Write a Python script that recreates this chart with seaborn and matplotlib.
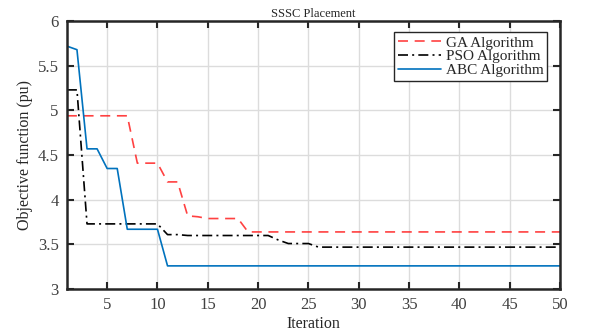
import numpy as np
import pandas as pd
import matplotlib
matplotlib.use("Agg")
import matplotlib.pyplot as plt
import seaborn as sns

iterations = list(range(1, 51))

ga_values = [4.94] * 7 + [4.41] * 3 + [4.20, 4.20, 3.82, 3.81] + [3.79] * 4 + [3.64] * 32
pso_values = [5.23, 5.23] + [3.73] * 8 + [3.61, 3.61, 3.60, 3.60] + [3.60] * 7 + [3.55, 3.51, 3.51, 3.51] + [3.47] * 25
abc_values = [5.72, 5.68, 4.57, 4.57, 4.35, 4.35] + [3.67] * 4 + [3.26] * 40

series_names = ["GA Algorithm", "PSO Algorithm", "ABC Algorithm"]
series_colors = ["#FF2020", "#000000", "#0072BD"]
series_dashes = [(6, 4), (6, 2.5, 1.2, 2.5), ()]

x_ticks = [5, 10, 15, 20, 25, 30, 35, 40, 45, 50]
y_ticks = [3, 3.5, 4, 4.5, 5, 5.5, 6]

sns.set_theme(style="whitegrid")
plt.rcParams["font.family"] = ["Liberation Serif", "DejaVu Serif"]

fig = plt.figure(figsize=(5.92, 3.35), dpi=100)
ax = fig.add_axes([0.113, 0.137, 0.833, 0.8])

for name, vals, col, dash in zip(series_names, [ga_values, pso_values, abc_values],
                                 series_colors, series_dashes):
    df = pd.DataFrame({"Iteration": iterations, "value": vals})
    sns.lineplot(data=df, x="Iteration", y="value", ax=ax, color=col,
                 linewidth=1.2, label=name, dashes=False)
    ln = ax.get_lines()[-1]
    if dash:
        ln.set_dashes(dash)
    if col.startswith("#FF"):
        ln.set_alpha(0.85)

ax.set_xlim(1, 50)
ax.set_ylim(3, 6)
ax.set_xticks(x_ticks)
ax.set_yticks(y_ticks)
ax.set_yticklabels(["3", "3.5", "4", "4.5", "5", "5.5", "6"])
ax.grid(True, color="#DCDCDC", linewidth=1.0)
ax.set_facecolor("white")
for sp in ax.spines.values():
    sp.set_color("#262626")
    sp.set_linewidth(1.8)
    sp.set_visible(True)

ax.tick_params(axis="both", which="both", direction="in", length=5, width=1.5,
               color="#262626", top=True, right=True, bottom=True, left=True,
               labelsize=12, labelcolor="#404040", pad=6)

ax.set_xlabel("Iteration", fontsize=11.5, color="#262626", labelpad=2)
ax.set_ylabel("Objective function (pu)", fontsize=11.5, color="#262626", labelpad=3)
ax.set_title("SSSC Placement", fontsize=9, color="#262626", pad=3)

leg = ax.legend(loc="upper right", bbox_to_anchor=(0.974, 0.959), fontsize=11,
                frameon=True, fancybox=False, framealpha=1, edgecolor="#262626",
                borderpad=0.25, labelspacing=0.0, handlelength=2.8, handletextpad=0.3,
                borderaxespad=0)
leg.get_frame().set_linewidth(1.0)

fig.savefig("out.png", dpi=100)
